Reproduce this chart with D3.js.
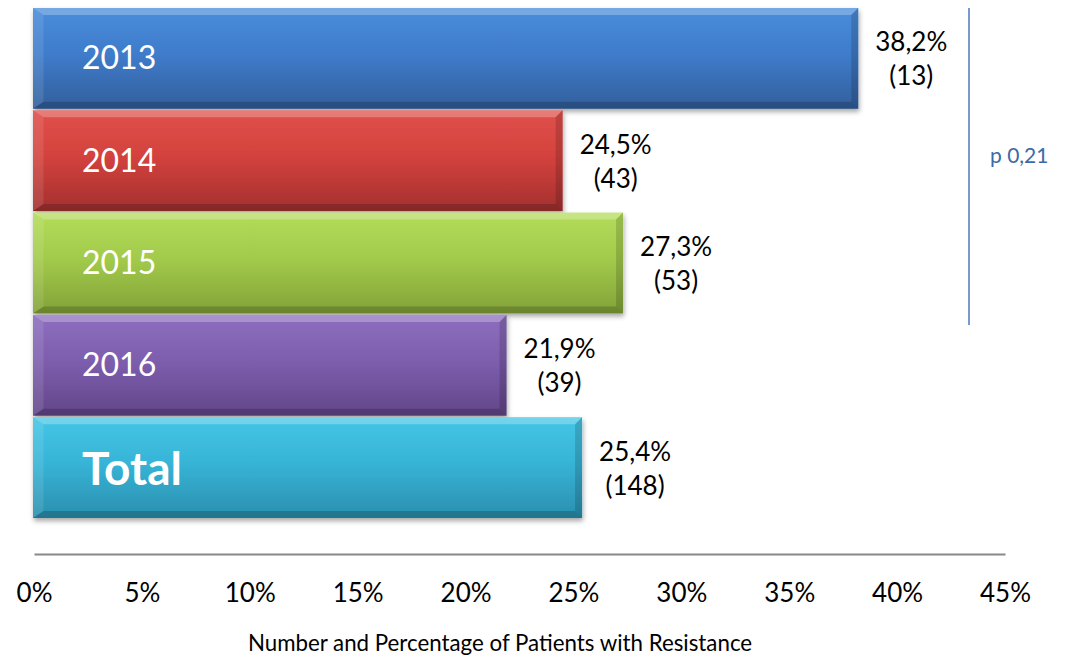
<!DOCTYPE html>
<html><head><meta charset="utf-8">
<script src="https://cdn.jsdelivr.net/npm/d3@7"></script>
<style>html,body{margin:0;padding:0;background:#fff;}svg{display:block;font-family:Lato,"Open Sans",sans-serif;}</style>
</head><body>
<svg id="c" width="1065" height="657"></svg>
<script>
const categories = ["2013","2014","2015","2016","Total"];
const percents = [38.2, 24.5, 27.3, 21.9, 25.4];
const counts = [13, 43, 53, 39, 148];
const percentLabels = ["38,2%","24,5%","27,3%","21,9%","25,4%"];
const tickValues = [0,5,10,15,20,25,30,35,40,45];
const tickLabels = ["0%","5%","10%","15%","20%","25%","30%","35%","40%","45%"];
const barColors = [
  {top:"#4a8ddb", mid:"#3f7ccb", bot:"#325f9c"},
  {top:"#e0504b", mid:"#d4423e", bot:"#a3302e"},
  {top:"#b4dc5a", mid:"#a3cb4b", bot:"#82a238"},
  {top:"#8d6ebf", mid:"#7d5eae", bot:"#624689"},
  {top:"#45c6e6", mid:"#37b4d7", bot:"#2a8fae"}
];
const pText = "p 0,21";
const axisTitle = "Number and Percentage of Patients with Resistance";

const svg = d3.select("#c");
const x = d3.scaleLinear().domain([0,45]).range([34,1005]);
const y = d3.scaleBand().domain(categories).range([8,518]).paddingInner(0.015);

const defs = svg.append("defs");
const f = defs.append("filter").attr("id","sh").attr("x","-5%").attr("y","-10%").attr("width","110%").attr("height","130%");
f.append("feDropShadow").attr("dx",1).attr("dy",3).attr("stdDeviation",2.5).attr("flood-color","#000").attr("flood-opacity",0.35);

categories.forEach((c,i)=>{
  const g = defs.append("linearGradient").attr("id","g"+i).attr("x1",0).attr("y1",0).attr("x2",0).attr("y2",1);
  g.append("stop").attr("offset","0%").attr("stop-color",barColors[i].top);
  g.append("stop").attr("offset","45%").attr("stop-color",barColors[i].mid);
  g.append("stop").attr("offset","100%").attr("stop-color",barColors[i].bot);
});

const bars = svg.append("g").selectAll("g").data(categories).join("g");
bars.each(function(c,i){
  const g = d3.select(this);
  const x0 = x(0)-1, x1 = x(percents[i]), y0 = y(c), y1 = y(c)+y.bandwidth();
  const b = 7;
  g.append("rect").attr("x",x0).attr("y",y0).attr("width",x1-x0).attr("height",y1-y0)
    .attr("fill","url(#g"+i+")").attr("filter","url(#sh)");
  g.append("path").attr("d",`M${x0},${y0}L${x1},${y0}L${x1-b},${y0+b}L${x0+b*1.5},${y0+b}Z`)
    .attr("fill","#fff").attr("opacity",0.25);
  g.append("path").attr("d",`M${x0},${y0}L${x0+b*1.5},${y0+b}L${x0+b*1.5},${y1-b}L${x0},${y1}Z`)
    .attr("fill","#fff").attr("opacity",0.1);
  g.append("path").attr("d",`M${x1},${y0}L${x1},${y1}L${x1-b},${y1-b}L${x1-b},${y0+b}Z`)
    .attr("fill","#000").attr("opacity",0.15);
  g.append("path").attr("d",`M${x0},${y1}L${x1},${y1}L${x1-b},${y1-b}L${x0+b*1.5},${y1-b}Z`)
    .attr("fill","#000").attr("opacity",0.18);
  const cy = y0 + (y1-y0)/2;
  if (c === "Total") {
    g.append("text").attr("x",82).attr("y",cy+17).attr("fill","#fff").attr("font-weight","bold")
      .attr("font-size",46).text(c);
  } else {
    g.append("text").attr("x",82).attr("y",cy+11).attr("fill","#fff").attr("font-size",32).text(c);
  }
  g.append("text").attr("x",x1+53).attr("y",cy-7).attr("text-anchor","middle").attr("font-size",26)
    .attr("fill","#000").text(percentLabels[i]);
  g.append("text").attr("x",x1+53).attr("y",cy+27).attr("text-anchor","middle").attr("font-size",26)
    .attr("fill","#000").text("("+counts[i]+")");
});

const ax = svg.append("g").attr("transform","translate(0,554)")
  .call(d3.axisBottom(x).tickValues(tickValues).tickSize(0).tickPadding(0).tickFormat((d,i)=>tickLabels[i]));
ax.select(".domain").attr("stroke","#888").attr("stroke-width",2);
ax.selectAll(".tick text").attr("font-family","Lato").attr("font-size",26).attr("fill","#000").attr("dy",0).attr("y",48);

svg.append("text").attr("x",500).attr("y",651).attr("text-anchor","middle").attr("font-size",22.3).attr("fill","#000").text(axisTitle);

svg.append("line").attr("x1",969).attr("x2",969).attr("y1",y("2013")).attr("y2",325).attr("stroke","#4a7ab8").attr("stroke-width",1.5);
svg.append("text").attr("x",990).attr("y",163).attr("font-size",21).attr("fill","#3b6aa6").text(pText);
</script>
</body></html>
